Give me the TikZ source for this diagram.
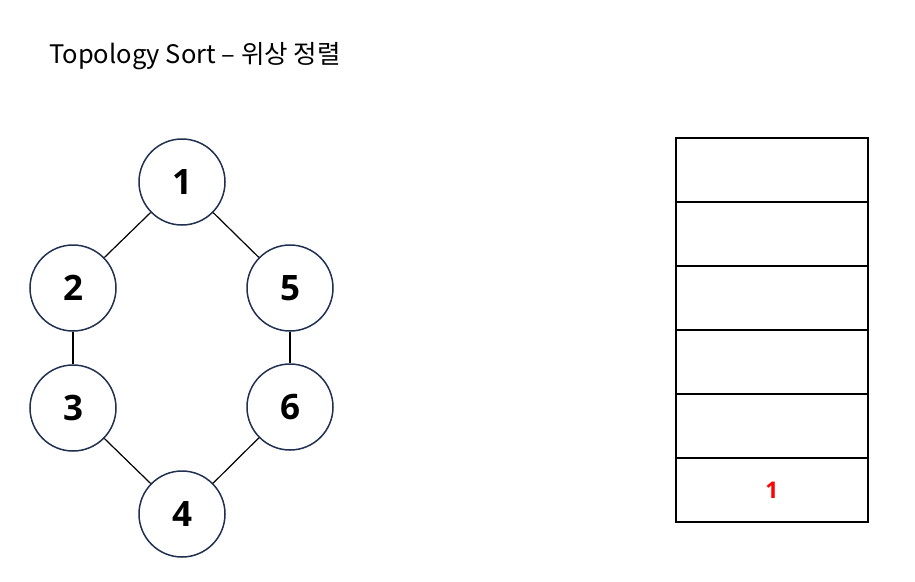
\documentclass[tikz,border=0pt]{standalone}
\usepackage{fontspec}
\setmainfont{Open Sans}
\newfontfamily\krfont{Noto Sans CJK KR}
\definecolor{navy}{HTML}{1F3050}
\definecolor{stackred}{HTML}{FF0000}
\begin{document}
\begin{tikzpicture}[x=1pt,y=-1pt,
  vert/.style={circle,draw=navy,line width=1.5pt,minimum size=86pt,inner sep=0pt,
    font=\fontsize{35}{35}\selectfont\bfseries},
  edge/.style={draw=black,line width=1.2pt},
  cell/.style={draw=black,line width=1.2pt,minimum width=192pt,minimum height=64pt,inner sep=0pt,
    font=\fontsize{23}{23}\selectfont\bfseries,text=stackred}]
\useasboundingbox (0,0) rectangle (915,581);
\node[anchor=base west,inner sep=0pt,font=\krfont\fontsize{25.5}{25.5}\selectfont] (title) at (49,63) {Topology Sort – 위상 정렬};
\node[vert] (n1) at (182,182) {1};
\node[vert] (n2) at (73,288) {2};
\node[vert] (n5) at (290,288) {5};
\node[vert] (n3) at (73,408) {3};
\node[vert] (n6) at (290,407) {6};
\node[vert] (n4) at (182,514) {4};
\draw[edge] (n1) -- (n2);
\draw[edge] (n1) -- (n5);
\draw[edge] (n2) -- (n3);
\draw[edge] (n5) -- (n6);
\draw[edge] (n3) -- (n4);
\draw[edge] (n6) -- (n4);
\node[cell] (c1) at (772,170) {};
\node[cell] (c2) at (772,234) {};
\node[cell] (c3) at (772,298) {};
\node[cell] (c4) at (772,362) {};
\node[cell] (c5) at (772,426) {};
\node[cell] (c6) at (772,490) {1};
\end{tikzpicture}
\end{document}
